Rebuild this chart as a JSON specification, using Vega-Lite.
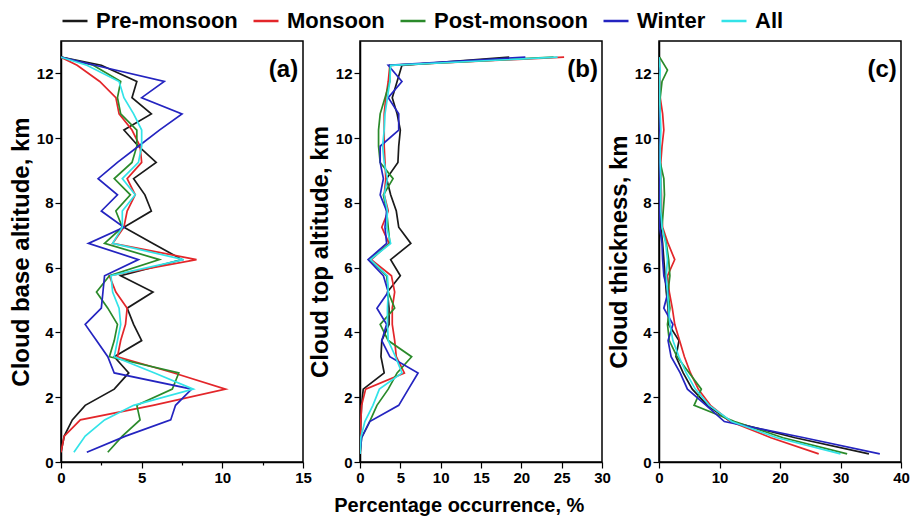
{
  "$schema": "https://vega.github.io/schema/vega-lite/v6.json",
  "background": "white",
  "padding": {"left": 8, "top": 7, "right": 5, "bottom": 5},
  "bounds": "flush",
  "spacing": 57,
  "datasets": {
    "a": [
      {"alt": 0.3, "Pre-monsoon": 0, "Monsoon": 0, "Post-monsoon": 2.9, "Winter": 1.6, "All": 0.8},
      {"alt": 0.8, "Pre-monsoon": 0.2, "Monsoon": 0.2, "Post-monsoon": 3.8, "Winter": 4.0, "All": 1.5},
      {"alt": 1.3, "Pre-monsoon": 0.7, "Monsoon": 1.2, "Post-monsoon": 4.9, "Winter": 6.8, "All": 2.7},
      {"alt": 1.75, "Pre-monsoon": 1.5, "Monsoon": 5.7, "Post-monsoon": 4.7, "Winter": 7.1, "All": 4.5},
      {"alt": 2.25, "Pre-monsoon": 3.3, "Monsoon": 10.2, "Post-monsoon": 6.9, "Winter": 8.1, "All": 8.2},
      {"alt": 2.75, "Pre-monsoon": 4.2, "Monsoon": 7.0, "Post-monsoon": 7.3, "Winter": 3.3, "All": 5.8},
      {"alt": 3.25, "Pre-monsoon": 3.3, "Monsoon": 3.5, "Post-monsoon": 3.0, "Winter": 2.9, "All": 3.3},
      {"alt": 3.75, "Pre-monsoon": 5.0, "Monsoon": 3.7, "Post-monsoon": 3.3, "Winter": 2.2, "All": 3.5},
      {"alt": 4.25, "Pre-monsoon": 4.5, "Monsoon": 4.0, "Post-monsoon": 3.5, "Winter": 1.5, "All": 3.7},
      {"alt": 4.75, "Pre-monsoon": 4.1, "Monsoon": 4.1, "Post-monsoon": 2.9, "Winter": 2.5, "All": 3.6},
      {"alt": 5.25, "Pre-monsoon": 5.7, "Monsoon": 3.4, "Post-monsoon": 2.2, "Winter": 2.6, "All": 3.2},
      {"alt": 5.75, "Pre-monsoon": 3.7, "Monsoon": 3.0, "Post-monsoon": 3.0, "Winter": 2.7, "All": 3.1},
      {"alt": 6.25, "Pre-monsoon": 7.5, "Monsoon": 8.4, "Post-monsoon": 6.1, "Winter": 4.8, "All": 7.6},
      {"alt": 6.75, "Pre-monsoon": 5.7, "Monsoon": 3.2, "Post-monsoon": 2.7, "Winter": 1.7, "All": 3.2},
      {"alt": 7.25, "Pre-monsoon": 3.9, "Monsoon": 3.9, "Post-monsoon": 3.8, "Winter": 3.9, "All": 3.8},
      {"alt": 7.75, "Pre-monsoon": 5.6, "Monsoon": 4.1, "Post-monsoon": 3.4, "Winter": 2.5, "All": 3.8},
      {"alt": 8.25, "Pre-monsoon": 5.2, "Monsoon": 4.6, "Post-monsoon": 4.3, "Winter": 3.5, "All": 4.6},
      {"alt": 8.75, "Pre-monsoon": 4.5, "Monsoon": 4.1, "Post-monsoon": 3.3, "Winter": 2.3, "All": 3.8},
      {"alt": 9.25, "Pre-monsoon": 5.9, "Monsoon": 5.0, "Post-monsoon": 4.4, "Winter": 3.5, "All": 4.8},
      {"alt": 9.75, "Pre-monsoon": 4.8, "Monsoon": 4.9, "Post-monsoon": 4.7, "Winter": 4.8, "All": 5.0},
      {"alt": 10.25, "Pre-monsoon": 3.9, "Monsoon": 4.4, "Post-monsoon": 4.7, "Winter": 6.1, "All": 5.0},
      {"alt": 10.75, "Pre-monsoon": 5.6, "Monsoon": 3.6, "Post-monsoon": 3.7, "Winter": 7.5, "All": 4.5},
      {"alt": 11.25, "Pre-monsoon": 4.4, "Monsoon": 3.4, "Post-monsoon": 3.5, "Winter": 5.0, "All": 3.9},
      {"alt": 11.75, "Pre-monsoon": 4.7, "Monsoon": 2.4, "Post-monsoon": 3.7, "Winter": 6.4, "All": 3.6},
      {"alt": 12.25, "Pre-monsoon": 2.5, "Monsoon": 1.0, "Post-monsoon": 2.0, "Winter": 2.1, "All": 1.6},
      {"alt": 12.5, "Pre-monsoon": 0, "Monsoon": 0, "Post-monsoon": 0, "Winter": 0, "All": 0}
    ],
    "b": [
      {"alt": 0.25, "Pre-monsoon": 0, "Monsoon": 0, "Post-monsoon": 0, "Winter": 0, "All": 0},
      {"alt": 0.75, "Pre-monsoon": 0, "Monsoon": 0.05, "Post-monsoon": 0.2, "Winter": 0.2, "All": 0.1},
      {"alt": 1.25, "Pre-monsoon": 0.1, "Monsoon": 0.1, "Post-monsoon": 1.2, "Winter": 1.2, "All": 0.6},
      {"alt": 1.75, "Pre-monsoon": 0.2, "Monsoon": 0.2, "Post-monsoon": 2.1, "Winter": 4.8, "All": 1.6},
      {"alt": 2.25, "Pre-monsoon": 0.4, "Monsoon": 0.7, "Post-monsoon": 3.5, "Winter": 6.0, "All": 2.4},
      {"alt": 2.75, "Pre-monsoon": 3.0, "Monsoon": 5.5, "Post-monsoon": 4.6, "Winter": 7.2, "All": 5.2},
      {"alt": 3.25, "Pre-monsoon": 2.6, "Monsoon": 4.5, "Post-monsoon": 6.4, "Winter": 3.7, "All": 4.4},
      {"alt": 3.75, "Pre-monsoon": 2.7, "Monsoon": 4.3, "Post-monsoon": 3.5, "Winter": 2.7, "All": 3.5},
      {"alt": 4.25, "Pre-monsoon": 3.6, "Monsoon": 4.0, "Post-monsoon": 2.5, "Winter": 3.3, "All": 3.4},
      {"alt": 4.75, "Pre-monsoon": 3.6, "Monsoon": 4.0, "Post-monsoon": 4.3, "Winter": 2.1, "All": 3.4},
      {"alt": 5.25, "Pre-monsoon": 3.4, "Monsoon": 4.3, "Post-monsoon": 3.5, "Winter": 3.5, "All": 3.5},
      {"alt": 5.75, "Pre-monsoon": 5.0, "Monsoon": 3.9, "Post-monsoon": 3.3, "Winter": 2.9, "All": 3.4},
      {"alt": 6.25, "Pre-monsoon": 3.8, "Monsoon": 1.4, "Post-monsoon": 1.2, "Winter": 1.0, "All": 1.3},
      {"alt": 6.75, "Pre-monsoon": 6.3, "Monsoon": 3.6, "Post-monsoon": 3.7, "Winter": 3.3, "All": 3.8},
      {"alt": 7.25, "Pre-monsoon": 4.8, "Monsoon": 2.7, "Post-monsoon": 3.5, "Winter": 3.1, "All": 3.3},
      {"alt": 7.75, "Pre-monsoon": 4.5, "Monsoon": 3.5, "Post-monsoon": 3.3, "Winter": 3.3, "All": 3.4},
      {"alt": 8.25, "Pre-monsoon": 3.8, "Monsoon": 3.0, "Post-monsoon": 2.9, "Winter": 2.5, "All": 3.0},
      {"alt": 8.75, "Pre-monsoon": 3.3, "Monsoon": 3.2, "Post-monsoon": 4.1, "Winter": 2.9, "All": 3.4},
      {"alt": 9.25, "Pre-monsoon": 4.7, "Monsoon": 3.1, "Post-monsoon": 2.5, "Winter": 2.5, "All": 3.0},
      {"alt": 9.75, "Pre-monsoon": 4.8, "Monsoon": 3.0, "Post-monsoon": 2.3, "Winter": 2.5, "All": 2.8},
      {"alt": 10.25, "Pre-monsoon": 5.0, "Monsoon": 3.0, "Post-monsoon": 2.3, "Winter": 4.8, "All": 3.0},
      {"alt": 10.75, "Pre-monsoon": 4.6, "Monsoon": 3.0, "Post-monsoon": 2.5, "Winter": 4.8, "All": 3.1},
      {"alt": 11.25, "Pre-monsoon": 4.0, "Monsoon": 3.2, "Post-monsoon": 3.1, "Winter": 3.5, "All": 3.4},
      {"alt": 11.75, "Pre-monsoon": 4.6, "Monsoon": 3.5, "Post-monsoon": 3.7, "Winter": 5.2, "All": 3.7},
      {"alt": 12.25, "Pre-monsoon": 5.2, "Monsoon": 3.7, "Post-monsoon": 3.7, "Winter": 3.5, "All": 3.8},
      {"alt": 12.5, "Pre-monsoon": 18.5, "Monsoon": 25.3, "Post-monsoon": 24.0, "Winter": 20.5, "All": 24.5}
    ],
    "c": [
      {"alt": 0.25, "Pre-monsoon": 34.7, "Monsoon": 26.4, "Post-monsoon": 31.1, "Winter": 36.5, "All": 30.0},
      {"alt": 0.75, "Pre-monsoon": 22.5, "Monsoon": 18.5, "Post-monsoon": 20.5, "Winter": 24.0, "All": 19.5},
      {"alt": 1.25, "Pre-monsoon": 11.8, "Monsoon": 11.8, "Post-monsoon": 12.5, "Winter": 10.8, "All": 12.0},
      {"alt": 1.75, "Pre-monsoon": 8.0, "Monsoon": 8.5, "Post-monsoon": 5.8, "Winter": 7.8, "All": 8.3},
      {"alt": 2.25, "Pre-monsoon": 5.5, "Monsoon": 6.5, "Post-monsoon": 7.0, "Winter": 4.7, "All": 6.0},
      {"alt": 2.75, "Pre-monsoon": 4.0, "Monsoon": 5.2, "Post-monsoon": 5.0, "Winter": 3.5, "All": 4.5},
      {"alt": 3.25, "Pre-monsoon": 2.8, "Monsoon": 4.2, "Post-monsoon": 3.0, "Winter": 2.0, "All": 3.3},
      {"alt": 3.75, "Pre-monsoon": 3.3, "Monsoon": 3.4, "Post-monsoon": 1.7, "Winter": 1.5, "All": 2.3},
      {"alt": 4.25, "Pre-monsoon": 1.6, "Monsoon": 2.6, "Post-monsoon": 1.4, "Winter": 2.3, "All": 1.8},
      {"alt": 4.75, "Pre-monsoon": 1.5, "Monsoon": 2.2, "Post-monsoon": 1.8, "Winter": 0.8, "All": 1.6},
      {"alt": 5.25, "Pre-monsoon": 1.2, "Monsoon": 1.7, "Post-monsoon": 1.5, "Winter": 1.5, "All": 1.4},
      {"alt": 5.75, "Pre-monsoon": 1.0, "Monsoon": 1.4, "Post-monsoon": 1.8, "Winter": 0.8, "All": 1.2},
      {"alt": 6.25, "Pre-monsoon": 0.8, "Monsoon": 2.6, "Post-monsoon": 1.6, "Winter": 0.6, "All": 1.4},
      {"alt": 6.75, "Pre-monsoon": 0.6, "Monsoon": 1.5, "Post-monsoon": 1.2, "Winter": 0.5, "All": 1.1},
      {"alt": 7.25, "Pre-monsoon": 0.3, "Monsoon": 0.6, "Post-monsoon": 0.5, "Winter": 0.1, "All": 0.5},
      {"alt": 7.75, "Pre-monsoon": 0.2, "Monsoon": 0.4, "Post-monsoon": 0.7, "Winter": 0.1, "All": 0.3},
      {"alt": 8.25, "Pre-monsoon": 0.2, "Monsoon": 0.4, "Post-monsoon": 0.9, "Winter": 0.1, "All": 0.3},
      {"alt": 8.75, "Pre-monsoon": 0.2, "Monsoon": 0.3, "Post-monsoon": 0.8, "Winter": 0.1, "All": 0.3},
      {"alt": 9.25, "Pre-monsoon": 0.1, "Monsoon": 0.3, "Post-monsoon": 0.2, "Winter": 0.1, "All": 0.2},
      {"alt": 9.75, "Pre-monsoon": 0.1, "Monsoon": 0.5, "Post-monsoon": 0.2, "Winter": 0.1, "All": 0.2},
      {"alt": 10.25, "Pre-monsoon": 0.1, "Monsoon": 0.8, "Post-monsoon": 0.1, "Winter": 0.1, "All": 0.3},
      {"alt": 10.75, "Pre-monsoon": 0.1, "Monsoon": 0.6, "Post-monsoon": 0.1, "Winter": 0.1, "All": 0.2},
      {"alt": 11.25, "Pre-monsoon": 0, "Monsoon": 0.2, "Post-monsoon": 0.2, "Winter": 0, "All": 0.1},
      {"alt": 11.75, "Pre-monsoon": 0, "Monsoon": 0.1, "Post-monsoon": 0.5, "Winter": 0, "All": 0.1},
      {"alt": 12.1, "Pre-monsoon": 0, "Monsoon": 0, "Post-monsoon": 1.4, "Winter": 0, "All": 0.2},
      {"alt": 12.5, "Pre-monsoon": 0, "Monsoon": 0, "Post-monsoon": 0.1, "Winter": 0, "All": 0}
    ]
  },
  "title": {"text": "Percentage occurrence, %", "orient": "bottom", "anchor": "middle", "fontSize": 20, "font": "Liberation Sans", "fontWeight": "bold", "color": "black", "offset": 10},
  "hconcat": [
    {
      "width": 242, "height": 421,
      "layer": [
        {
          "data": {"name": "a"},
          "transform": [{"fold": ["Pre-monsoon", "Monsoon", "Post-monsoon", "Winter", "All"], "as": ["season", "pct"]}],
          "mark": {"type": "line", "strokeWidth": 1.7, "clip": true},
          "encoding": {
            "x": {"field": "pct", "type": "quantitative", "scale": {"domain": [0, 15], "nice": false},
                  "axis": {"title": null, "values": [0, 2.5, 5, 7.5, 10, 12.5, 15], "labelExpr": "datum.value % 5 === 0 ? datum.label : ''",
                           "tickSize": {"condition": {"test": "datum.value % 5 === 0", "value": 6}, "value": 3}}},
            "y": {"field": "alt", "type": "quantitative", "scale": {"domain": [0, 13], "nice": false},
                  "axis": {"title": "Cloud base altitude, km", "values": [0, 1, 2, 3, 4, 5, 6, 7, 8, 9, 10, 11, 12, 13], "labelExpr": "datum.value % 2 === 0 ? datum.label : ''",
                           "tickSize": {"condition": {"test": "datum.value % 2 === 0", "value": 6}, "value": 3}}},
            "color": {"field": "season", "type": "nominal",
                      "scale": {"domain": ["Pre-monsoon", "Monsoon", "Post-monsoon", "Winter", "All"], "range": ["#1a1a1a", "#e3262a", "#2a8a2a", "#2424c0", "#33e3e8"]},
                      "legend": {"title": null}},
            "order": {"field": "alt", "type": "quantitative"}
          }
        },
        {
          "data": {"values": [{"x": 14.7, "y": 12.1, "t": "(a)"}]},
          "mark": {"type": "text", "align": "right", "baseline": "middle", "fontSize": 24, "fontWeight": "bold", "font": "Liberation Sans", "color": "black"},
          "encoding": {"x": {"field": "x", "type": "quantitative"}, "y": {"field": "y", "type": "quantitative"}, "text": {"field": "t"}}
        }
      ]
    },
    {
      "width": 242, "height": 421,
      "layer": [
        {
          "data": {"name": "b"},
          "transform": [{"fold": ["Pre-monsoon", "Monsoon", "Post-monsoon", "Winter", "All"], "as": ["season", "pct"]}],
          "mark": {"type": "line", "strokeWidth": 1.7, "clip": true},
          "encoding": {
            "x": {"field": "pct", "type": "quantitative", "scale": {"domain": [0, 30], "nice": false},
                  "axis": {"title": null, "values": [0, 2.5, 5, 7.5, 10, 12.5, 15, 17.5, 20, 22.5, 25, 27.5, 30], "labelExpr": "datum.value % 5 === 0 ? datum.label : ''",
                           "tickSize": {"condition": {"test": "datum.value % 5 === 0", "value": 6}, "value": 3}}},
            "y": {"field": "alt", "type": "quantitative", "scale": {"domain": [0, 13], "nice": false},
                  "axis": {"title": "Cloud top altitude, km", "values": [0, 1, 2, 3, 4, 5, 6, 7, 8, 9, 10, 11, 12, 13], "labelExpr": "datum.value % 2 === 0 ? datum.label : ''",
                           "tickSize": {"condition": {"test": "datum.value % 2 === 0", "value": 6}, "value": 3}}},
            "color": {"field": "season", "type": "nominal",
                      "scale": {"domain": ["Pre-monsoon", "Monsoon", "Post-monsoon", "Winter", "All"], "range": ["#1a1a1a", "#e3262a", "#2a8a2a", "#2424c0", "#33e3e8"]},
                      "legend": {"title": null}},
            "order": {"field": "alt", "type": "quantitative"}
          }
        },
        {
          "data": {"values": [{"x": 29.5, "y": 12.1, "t": "(b)"}]},
          "mark": {"type": "text", "align": "right", "baseline": "middle", "fontSize": 24, "fontWeight": "bold", "font": "Liberation Sans", "color": "black"},
          "encoding": {"x": {"field": "x", "type": "quantitative"}, "y": {"field": "y", "type": "quantitative"}, "text": {"field": "t"}}
        }
      ]
    },
    {
      "width": 242, "height": 421,
      "layer": [
        {
          "data": {"name": "c"},
          "transform": [{"fold": ["Pre-monsoon", "Monsoon", "Post-monsoon", "Winter", "All"], "as": ["season", "pct"]}],
          "mark": {"type": "line", "strokeWidth": 1.7, "clip": true},
          "encoding": {
            "x": {"field": "pct", "type": "quantitative", "scale": {"domain": [0, 40], "nice": false},
                  "axis": {"title": null, "values": [0, 5, 10, 15, 20, 25, 30, 35, 40], "labelExpr": "datum.value % 10 === 0 ? datum.label : ''",
                           "tickSize": {"condition": {"test": "datum.value % 10 === 0", "value": 6}, "value": 3}}},
            "y": {"field": "alt", "type": "quantitative", "scale": {"domain": [0, 13], "nice": false},
                  "axis": {"title": "Cloud thickness, km", "values": [0, 1, 2, 3, 4, 5, 6, 7, 8, 9, 10, 11, 12, 13], "labelExpr": "datum.value % 2 === 0 ? datum.label : ''",
                           "tickSize": {"condition": {"test": "datum.value % 2 === 0", "value": 6}, "value": 3}}},
            "color": {"field": "season", "type": "nominal",
                      "scale": {"domain": ["Pre-monsoon", "Monsoon", "Post-monsoon", "Winter", "All"], "range": ["#1a1a1a", "#e3262a", "#2a8a2a", "#2424c0", "#33e3e8"]},
                      "legend": {"title": null}},
            "order": {"field": "alt", "type": "quantitative"}
          }
        },
        {
          "data": {"values": [{"x": 39.3, "y": 12.1, "t": "(c)"}]},
          "mark": {"type": "text", "align": "right", "baseline": "middle", "fontSize": 24, "fontWeight": "bold", "font": "Liberation Sans", "color": "black"},
          "encoding": {"x": {"field": "x", "type": "quantitative"}, "y": {"field": "y", "type": "quantitative"}, "text": {"field": "t"}}
        }
      ]
    }
  ],
  "resolve": {"scale": {"color": "shared"}},
  "config": {
    "font": "Liberation Sans",
    "view": {"stroke": "black", "strokeWidth": 1.5},
    "axis": {"domainColor": "black", "domainWidth": 1.5, "tickColor": "black", "tickWidth": 1.2, "labelFont": "Liberation Sans", "labelFontSize": 15, "labelFontWeight": "bold", "labelColor": "black", "titleFont": "Liberation Sans", "titleFontSize": 24, "titleFontWeight": "bold", "titleColor": "black", "grid": false, "labelPadding": 2, "titlePadding": 3, "labelFlush": false, "labelOverlap": false},
    "legend": {"orient": "none", "legendX": 0, "legendY": -34, "direction": "horizontal", "labelFont": "Liberation Sans", "labelFontSize": 22, "labelFontWeight": "bold", "labelColor": "black", "symbolType": "stroke", "symbolStrokeWidth": 2.5, "symbolSize": 625, "columnPadding": 10, "labelOffset": 7, "labelLimit": 0}
  }
}
